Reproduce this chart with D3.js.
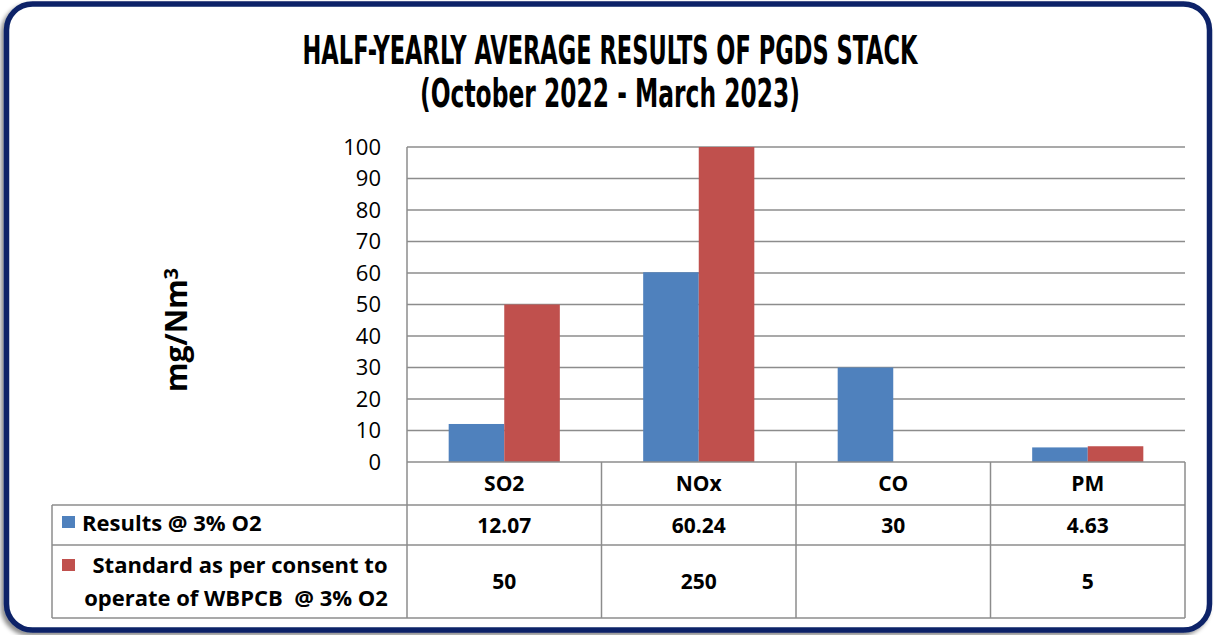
<!DOCTYPE html>
<html>
<head>
<meta charset="utf-8">
<script src="https://cdn.jsdelivr.net/npm/d3@7"></script>
<style>
  body { margin: 0; background: #fff; }
  svg { display: block; }
  text { font-family: "Open Sans", "Noto Sans", sans-serif; fill: #000; }
</style>
</head>
<body>
<div id="chart-area"></div>
<script>
var width = 1216,
    height = 635;

// data
var categories = ["SO2", "NOx", "CO", "PM"];
var results = [12.07, 60.24, 30, 4.63];
var standard = [50, 250, null, 5];
var tickValues = [0, 10, 20, 30, 40, 50, 60, 70, 80, 90, 100];
var seriesNames = ["Results @ 3% O2", "Standard as per consent to|operate of WBPCB  @ 3% O2"];
var seriesColors = ["#4F81BD", "#C0504D"];

var svg = d3.select("#chart-area").append("svg")
    .attr("width", width)
    .attr("height", height);

// shadow for the frame
var defs = svg.append("defs");
var f = defs.append("filter").attr("id", "shadow")
    .attr("x", "-5%").attr("y", "-5%").attr("width", "110%").attr("height", "110%");
f.append("feDropShadow").attr("dx", -3).attr("dy", 3).attr("stdDeviation", 2)
    .attr("flood-color", "#000").attr("flood-opacity", 0.45);

svg.append("rect")
    .attr("x", 6.5).attr("y", 4)
    .attr("width", 1203).attr("height", 626)
    .attr("rx", 26).attr("ry", 26)
    .attr("fill", "#fff")
    .attr("stroke", "#0B2467")
    .attr("stroke-width", 5.5)
    .attr("filter", "url(#shadow)");

// title
var title = svg.append("g")
    .style("font-family", "'DejaVu Sans Condensed', 'Liberation Sans Narrow', sans-serif")
    .style("font-weight", "bold");
title.append("text")
    .attr("x", 610).attr("y", 64)
    .attr("text-anchor", "middle")
    .attr("textLength", 615).attr("lengthAdjust", "spacingAndGlyphs")
    .style("font-family", "inherit")
    .style("font-size", "39px")
    .text("HALF-YEARLY AVERAGE RESULTS OF PGDS STACK");
title.append("text")
    .attr("x", 610).attr("y", 107)
    .attr("text-anchor", "middle")
    .attr("textLength", 380).attr("lengthAdjust", "spacingAndGlyphs")
    .style("font-family", "inherit")
    .style("font-size", "39px")
    .text("(October 2022 - March 2023)");

// plot area
var plotLeft = 407, plotRight = 1185, plotTop = 147, plotBottom = 462;

var x = d3.scaleBand()
    .domain(categories)
    .range([plotLeft, plotRight])
    .paddingInner(0)
    .paddingOuter(0);

var x1 = d3.scaleBand()
    .domain([0, 1])
    .range([0, x.bandwidth()])
    .paddingOuter(0.75);

var y = d3.scaleLinear()
    .domain([0, 100])
    .range([plotBottom, plotTop]);

// gridlines
svg.append("g")
  .selectAll("line")
  .data(tickValues.filter(d => d > 0))
  .enter().append("line")
    .attr("x1", plotLeft).attr("x2", plotRight)
    .attr("y1", d => y(d)).attr("y2", d => y(d))
    .attr("stroke", "#8c8c8c")
    .attr("stroke-width", 1.5);

// y axis
var yAxis = svg.append("g")
    .attr("transform", "translate(" + plotLeft + ",0)")
    .call(d3.axisLeft(y).tickValues(tickValues).tickSize(0).tickPadding(26));
yAxis.select(".domain").remove();
yAxis.selectAll("text")
    .style("font-family", "'Open Sans', sans-serif")
    .style("font-size", "22px")
    .attr("fill", "#000");

// bars
defs.append("clipPath").attr("id", "plotclip")
  .append("rect").attr("x", plotLeft).attr("y", plotTop)
  .attr("width", plotRight - plotLeft).attr("height", plotBottom - plotTop);

var series = [results, standard];
var barG = svg.append("g").attr("clip-path", "url(#plotclip)");
series.forEach(function(vals, s) {
  barG.selectAll(".bar" + s)
    .data(categories.map((c, i) => ({c: c, v: vals[i]})).filter(d => d.v != null))
    .enter().append("rect")
      .attr("class", "bar" + s)
      .attr("x", d => x(d.c) + x1(s))
      .attr("width", x1.bandwidth())
      .attr("y", d => y(d.v))
      .attr("height", d => plotBottom - y(d.v))
      .attr("fill", seriesColors[s]);
});

// axis line
svg.append("line")
    .attr("x1", plotLeft).attr("x2", plotLeft).attr("y1", plotTop).attr("y2", plotBottom)
    .attr("stroke", "#8c8c8c").attr("stroke-width", 1.5);

// data table
var tLeft = 52, rowY = [plotBottom, 505, 545, 618];
var grid = svg.append("g").attr("stroke", "#8c8c8c").attr("stroke-width", 1.5);
grid.append("line").attr("x1", plotLeft).attr("x2", plotRight).attr("y1", rowY[0]).attr("y2", rowY[0]);
[1, 2, 3].forEach(function(r) {
  grid.append("line").attr("x1", tLeft).attr("x2", plotRight).attr("y1", rowY[r]).attr("y2", rowY[r]);
});
grid.append("line").attr("x1", tLeft).attr("x2", tLeft).attr("y1", rowY[1]).attr("y2", rowY[3]);
categories.concat(["_end"]).forEach(function(c, i) {
  var xx = i < categories.length ? x(c) : plotRight;
  grid.append("line").attr("x1", xx).attr("x2", xx).attr("y1", rowY[0]).attr("y2", rowY[3]);
});

var tbl = svg.append("g").style("font-weight", "bold").style("font-size", "21px");
tbl.selectAll(".cat")
  .data(categories)
  .enter().append("text")
    .attr("x", d => x(d) + x.bandwidth() / 2)
    .attr("y", (rowY[0] + rowY[1]) / 2)
    .attr("dy", "0.36em")
    .attr("text-anchor", "middle")
    .text(d => d);

series.forEach(function(vals, s) {
  var cy = (rowY[s + 1] + rowY[s + 2]) / 2;
  tbl.selectAll(".val" + s)
    .data(categories.map((c, i) => ({c: c, v: vals[i]})).filter(d => d.v != null))
    .enter().append("text")
      .attr("x", d => x(d.c) + x.bandwidth() / 2)
      .attr("y", cy)
      .attr("dy", "0.36em")
      .attr("text-anchor", "middle")
      .text(d => d.v);
});

// legend keys in the table
var leg = tbl.append("g").style("font-size", "22px");
leg.append("rect").attr("x", 62).attr("y", 516).attr("width", 13).attr("height", 12).attr("fill", seriesColors[0]);
leg.append("text").attr("x", 82).attr("y", 523).attr("dy", "0.36em").text(seriesNames[0]);
leg.append("rect").attr("x", 62).attr("y", 559).attr("width", 13).attr("height", 12).attr("fill", seriesColors[1]);
var lines = seriesNames[1].split("|");
leg.append("text").attr("x", 240).attr("y", 565).attr("dy", "0.36em").attr("text-anchor", "middle")
    .style("white-space", "pre").text(lines[0]);
leg.append("text").attr("x", 236).attr("y", 598).attr("dy", "0.36em").attr("text-anchor", "middle")
    .style("white-space", "pre").text(lines[1]);

// y axis title
var yt = svg.append("text")
    .attr("transform", "translate(187,330) rotate(-90)")
    .attr("text-anchor", "middle")
    .style("font-weight", "bold")
    .style("font-size", "30px");
yt.append("tspan").text("mg/Nm");
yt.append("tspan").attr("dy", "-0.45em").style("font-size", "20px").text("3");
</script>
</body>
</html>
